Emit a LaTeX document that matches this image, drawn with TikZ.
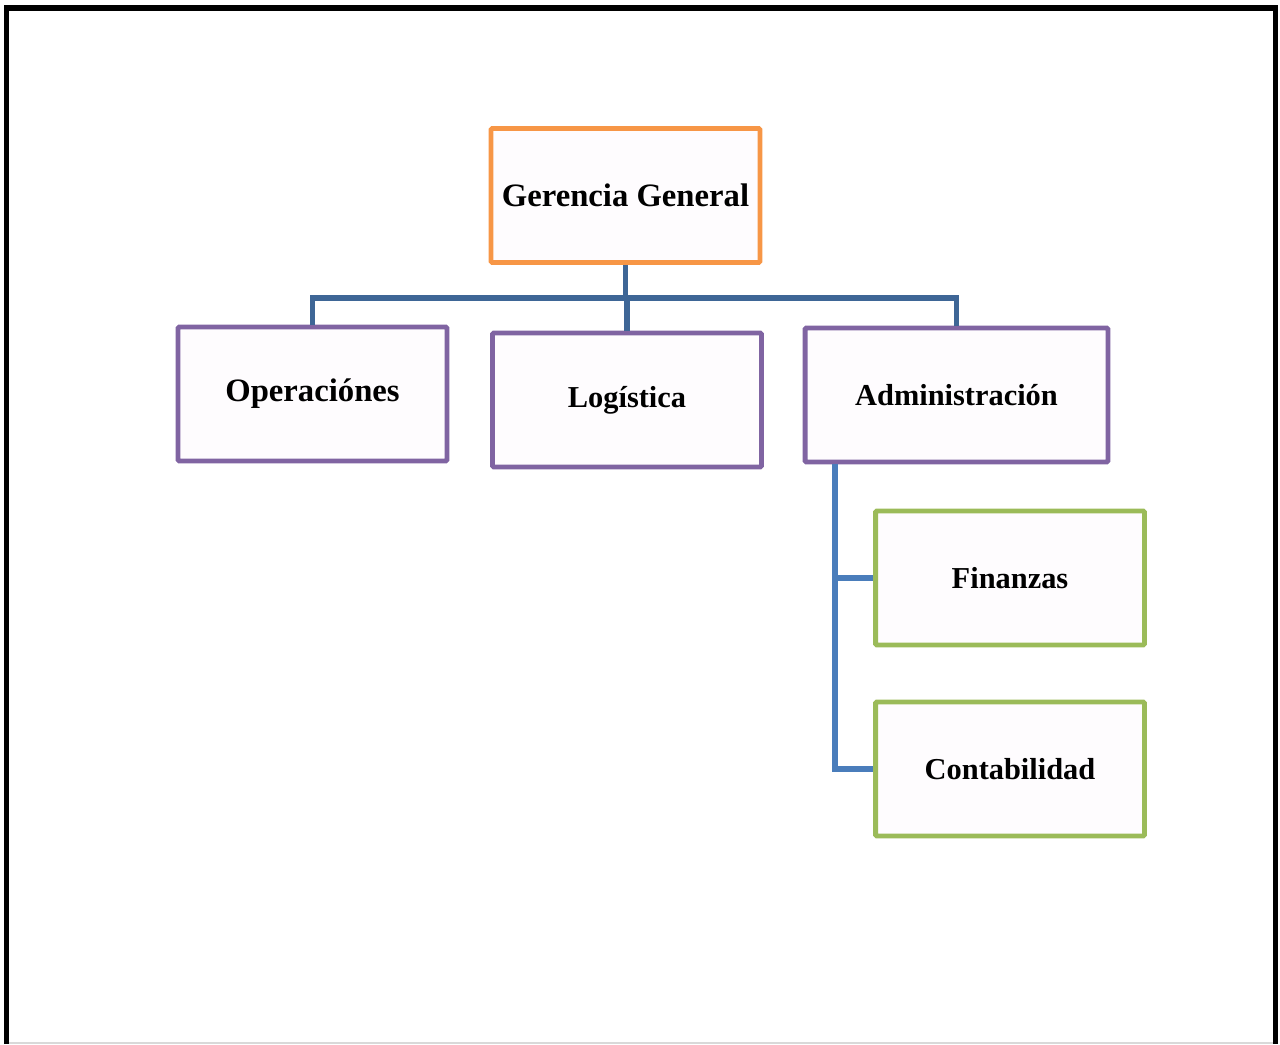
\documentclass[tikz,border=0pt]{standalone}
\usepackage{fontspec}
\setmainfont{Liberation Serif}
\usetikzlibrary{positioning}

\definecolor{boxorange}{HTML}{F79646}
\definecolor{boxpurple}{HTML}{8064A2}
\definecolor{boxgreen}{HTML}{9BBB59}
\definecolor{linkdark}{HTML}{3E6696}
\definecolor{linkblue}{HTML}{4A7DBB}
\definecolor{boxfill}{HTML}{FEFCFE}

\begin{document}
\begin{tikzpicture}[x=0.02cm, y=-0.02cm,
		box/.style = {draw, fill=boxfill, line width=2.8pt, rounded corners=0.8pt,
			minimum width=5.38cm, minimum height=2.68cm, inner sep=0pt,
			font=\bfseries\fontsize{17.3}{20}\selectfont},
		head/.style = {box, draw=boxorange, font=\bfseries\fontsize{18.6}{22}\selectfont},
		dept/.style = {box, draw=boxpurple},
		unit/.style = {box, draw=boxgreen},
		link/.style = {draw=linkdark, line width=3pt},
		sublink/.style = {draw=linkblue, line width=3pt}]
		% page frame, open at the bottom
		\useasboundingbox (0,0) rectangle (1280,1044);
		\draw[line width=2.9pt] (6.5,1044) -- (6.5,8) -- (1275.5,8) -- (1275.5,1044);
		\draw[black!15, line width=1pt] (9,1043) -- (1273,1043);

		% boxes
		\node[head] (gg) at (625.5, 195.5) {Gerencia General};
		\node[dept, font=\bfseries\fontsize{18.6}{22}\selectfont] (op) at (312.5, 394) {Operaciónes};
		\node[dept] (log) at (627, 400) {Logística};
		\node[dept, minimum width=6.06cm] (adm) at (956.5, 395) {Administración};
		\node[unit] (fin) at (1010, 578) {Finanzas};
		\node[unit] (cont) at (1010, 769) {Contabilidad};

		% connectors
		\coordinate (bus) at (625.5, 298);
		\coordinate (trunk) at (835, 395);
		\draw[link] (gg.south) -- (bus);
		\draw[link] (log.north) -- (log.north |- bus);
		\draw[link] (op.north) |- (bus) -| (adm.north);
		\draw[sublink] (trunk |- adm.south) |- (fin.west);
		\draw[sublink] (trunk |- adm.south) |- (cont.west);
	\end{tikzpicture}
\end{document}
